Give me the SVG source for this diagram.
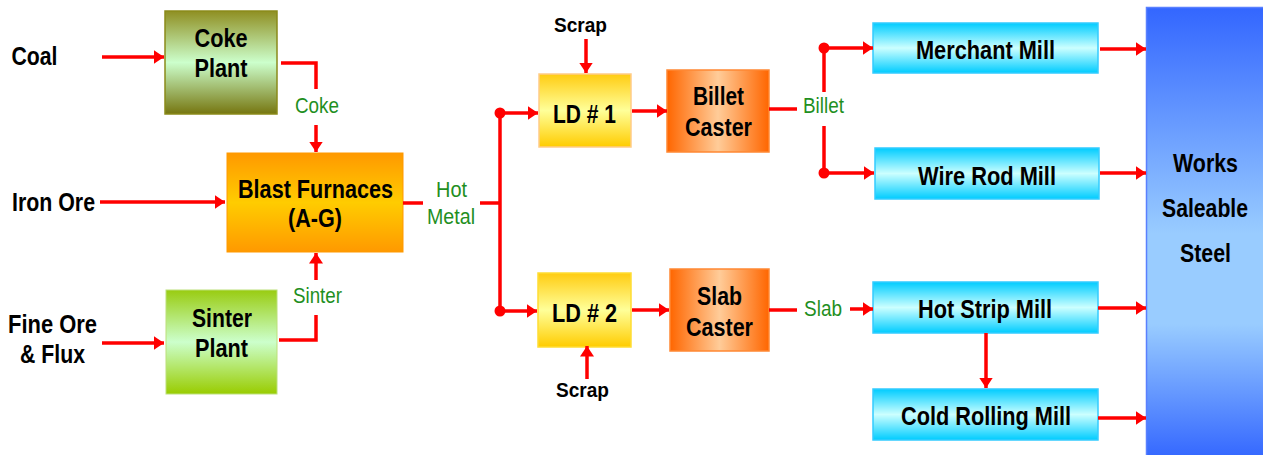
<svg xmlns="http://www.w3.org/2000/svg" width="1263" height="455" viewBox="0 0 1263 455">
<style>
.t{font-family:"Liberation Sans Narrow","Liberation Sans",Arial,sans-serif;font-weight:bold;font-size:25px;fill:#000;text-anchor:middle}
.s{font-size:21px}
.g{font-family:"Liberation Sans Narrow","Liberation Sans",Arial,sans-serif;font-weight:normal;font-size:22px;fill:#1f8f1f;text-anchor:middle}
.ln{fill:none;stroke:#ff0000;stroke-width:3.5}
.ar{marker-end:url(#ah)}
.dot{fill:#ff0000}
</style>
<defs>
<marker id="ah" markerUnits="userSpaceOnUse" markerWidth="11" markerHeight="14" refX="10.5" refY="7" orient="auto"><path d="M0,0 L10.5,7 L0,14 z" fill="#ff0000"/></marker>
<linearGradient id="gCoke" x1="0" y1="0" x2="0" y2="1"><stop offset="0" stop-color="#8f8f22"/><stop offset="0.5" stop-color="#ccffcc"/><stop offset="1" stop-color="#767610"/></linearGradient>
<linearGradient id="gBF" x1="0" y1="0" x2="0" y2="1"><stop offset="0" stop-color="#ff9900"/><stop offset="0.5" stop-color="#ffcc00"/><stop offset="1" stop-color="#ff9900"/></linearGradient>
<linearGradient id="gSin" x1="0" y1="0" x2="0" y2="1"><stop offset="0" stop-color="#99cc11"/><stop offset="0.5" stop-color="#ccffcc"/><stop offset="1" stop-color="#99cc00"/></linearGradient>
<linearGradient id="gLD" x1="0" y1="0" x2="0" y2="1"><stop offset="0" stop-color="#ffcc11"/><stop offset="0.5" stop-color="#ffff99"/><stop offset="1" stop-color="#ffcc00"/></linearGradient>
<linearGradient id="gCast" x1="0" y1="0" x2="1" y2="0"><stop offset="0" stop-color="#ff6600"/><stop offset="0.5" stop-color="#ffcc99"/><stop offset="1" stop-color="#ff6600"/></linearGradient>
<linearGradient id="gMill" x1="0" y1="0" x2="0" y2="1"><stop offset="0" stop-color="#00ccff"/><stop offset="0.5" stop-color="#ccffff"/><stop offset="1" stop-color="#00ccff"/></linearGradient>
<linearGradient id="gWorks" x1="0" y1="0" x2="0" y2="1"><stop offset="0" stop-color="#3366ff"/><stop offset="0.5" stop-color="#99ccff"/><stop offset="0.7" stop-color="#99ccff"/><stop offset="1" stop-color="#3366ff"/></linearGradient>
</defs>

<g id="inputs">
<text class="t" x="34.5" y="65" textLength="46" lengthAdjust="spacingAndGlyphs">Coal</text>
<text class="t" x="53.5" y="211" textLength="83" lengthAdjust="spacingAndGlyphs">Iron Ore</text>
<text class="t" x="52.5" y="333" textLength="89" lengthAdjust="spacingAndGlyphs">Fine Ore</text>
<text class="t" x="52.5" y="363" textLength="65" lengthAdjust="spacingAndGlyphs">&amp; Flux</text>
</g>

<g id="coke-plant">
<rect x="165" y="11" width="112" height="103" fill="url(#gCoke)" stroke="#8a8a1a" stroke-width="1.5"/>
<text class="t" x="221" y="47" textLength="53" lengthAdjust="spacingAndGlyphs">Coke</text>
<text class="t" x="221" y="77" textLength="53" lengthAdjust="spacingAndGlyphs">Plant</text>
</g>

<g id="blast-furnaces">
<rect x="227" y="153" width="176" height="99" fill="url(#gBF)" stroke="#ff9900" stroke-width="1"/>
<text class="t" x="315.5" y="198" textLength="155" lengthAdjust="spacingAndGlyphs">Blast Furnaces</text>
<text class="t" x="315" y="227" textLength="54" lengthAdjust="spacingAndGlyphs">(A-G)</text>
</g>

<g id="sinter-plant">
<rect x="166" y="290" width="111" height="104" fill="url(#gSin)" stroke="#bbe07a" stroke-width="1"/>
<text class="t" x="222" y="327" textLength="60" lengthAdjust="spacingAndGlyphs">Sinter</text>
<text class="t" x="221.5" y="357" textLength="53" lengthAdjust="spacingAndGlyphs">Plant</text>
</g>

<g id="ld1">
<rect x="539" y="74" width="92" height="73" fill="url(#gLD)" stroke="#ffcc88" stroke-width="1.5"/>
<text class="t" x="584.5" y="123" textLength="63" lengthAdjust="spacingAndGlyphs">LD # 1</text>
</g>

<g id="ld2">
<rect x="538" y="273" width="93" height="74" fill="url(#gLD)" stroke="#ffdd33" stroke-width="1.5"/>
<text class="t" x="584.5" y="322" textLength="65" lengthAdjust="spacingAndGlyphs">LD # 2</text>
</g>

<g id="scrap-labels">
<text class="t s" x="580.5" y="32" textLength="53" lengthAdjust="spacingAndGlyphs">Scrap</text>
<text class="t s" x="582.5" y="397" textLength="53" lengthAdjust="spacingAndGlyphs">Scrap</text>
</g>

<g id="billet-caster">
<rect x="667" y="70" width="102" height="82" fill="url(#gCast)" stroke="#ff8833" stroke-width="1.5"/>
<text class="t" x="718.5" y="105" textLength="51" lengthAdjust="spacingAndGlyphs">Billet</text>
<text class="t" x="718.5" y="136" textLength="67" lengthAdjust="spacingAndGlyphs">Caster</text>
</g>

<g id="slab-caster">
<rect x="670" y="269" width="99" height="82" fill="url(#gCast)" stroke="#ff8833" stroke-width="1.5"/>
<text class="t" x="719.5" y="305" textLength="45" lengthAdjust="spacingAndGlyphs">Slab</text>
<text class="t" x="719.5" y="336" textLength="67" lengthAdjust="spacingAndGlyphs">Caster</text>
</g>

<g id="merchant-mill">
<rect x="873" y="23" width="225" height="50" fill="url(#gMill)" stroke="#33ccff" stroke-width="1.5"/>
<text class="t" x="985.5" y="59" textLength="139" lengthAdjust="spacingAndGlyphs">Merchant Mill</text>
</g>

<g id="wire-rod-mill">
<rect x="875" y="148" width="224" height="51" fill="url(#gMill)" stroke="#33ccff" stroke-width="1.5"/>
<text class="t" x="987" y="185" textLength="138" lengthAdjust="spacingAndGlyphs">Wire Rod Mill</text>
</g>

<g id="hot-strip-mill">
<rect x="873" y="282" width="225" height="51" fill="url(#gMill)" stroke="#33ccff" stroke-width="1.5"/>
<text class="t" x="985" y="318" textLength="134" lengthAdjust="spacingAndGlyphs">Hot Strip Mill</text>
</g>

<g id="cold-rolling-mill">
<rect x="873" y="389" width="225" height="51" fill="url(#gMill)" stroke="#33ccff" stroke-width="1.5"/>
<text class="t" x="986" y="425" textLength="170" lengthAdjust="spacingAndGlyphs">Cold Rolling Mill</text>
</g>

<g id="works-saleable-steel">
<rect x="1146.5" y="7.5" width="120" height="452" fill="url(#gWorks)" stroke="#5a80ff" stroke-width="1.5"/>
<text class="t" x="1205.5" y="172" textLength="65" lengthAdjust="spacingAndGlyphs">Works</text>
<text class="t" x="1205" y="217" textLength="86" lengthAdjust="spacingAndGlyphs">Saleable</text>
<text class="t" x="1205.5" y="262" textLength="51" lengthAdjust="spacingAndGlyphs">Steel</text>
</g>

<g id="connectors">
<path class="ln ar" d="M102,57 H164"/>
<path class="ln ar" d="M100,202 H225"/>
<path class="ln ar" d="M102,343 H164"/>
<path class="ln" d="M281,63 H316 V89"/>
<path class="ln ar" d="M316,125 V152"/>
<path class="ln" d="M279,340 H316 V315"/>
<path class="ln ar" d="M316,280 V253"/>
<path class="ln" d="M403,203 H423"/>
<path class="ln" d="M480,203 H500"/>
<path class="ln" d="M500,113 V311"/>
<circle class="dot" cx="500" cy="113" r="5.5"/>
<circle class="dot" cx="500" cy="311" r="5.5"/>
<path class="ln ar" d="M500,113 H538"/>
<path class="ln ar" d="M500,311 H537"/>
<path class="ln ar" d="M586,39 V73"/>
<path class="ln ar" d="M587,379 V346"/>
<path class="ln ar" d="M632,111 H667"/>
<path class="ln ar" d="M632,310 H669"/>
<path class="ln" d="M769,109 H797"/>
<path class="ln" d="M824,48 V92"/>
<path class="ln" d="M824,126 V173"/>
<circle class="dot" cx="824" cy="48" r="5.5"/>
<circle class="dot" cx="824" cy="173" r="5.5"/>
<path class="ln ar" d="M824,48 H873"/>
<path class="ln ar" d="M824,173 H874"/>
<path class="ln" d="M769,310 H797"/>
<path class="ln ar" d="M850,309 H873"/>
<path class="ln ar" d="M986,333 V388"/>
<path class="ln ar" d="M1100,49 H1146"/>
<path class="ln ar" d="M1100,173 H1146"/>
<path class="ln ar" d="M1098,308 H1146"/>
<path class="ln ar" d="M1098,418 H1146"/>
<text class="g" x="317" y="113" textLength="44" lengthAdjust="spacingAndGlyphs">Coke</text>
<text class="g" x="317.5" y="303" textLength="49" lengthAdjust="spacingAndGlyphs">Sinter</text>
<text class="g" x="451.5" y="197" textLength="31" lengthAdjust="spacingAndGlyphs">Hot</text>
<text class="g" x="451" y="224" textLength="48" lengthAdjust="spacingAndGlyphs">Metal</text>
<text class="g" x="823.5" y="113" textLength="41" lengthAdjust="spacingAndGlyphs">Billet</text>
<text class="g" x="823" y="316" textLength="38" lengthAdjust="spacingAndGlyphs">Slab</text>
</g>
</svg>
